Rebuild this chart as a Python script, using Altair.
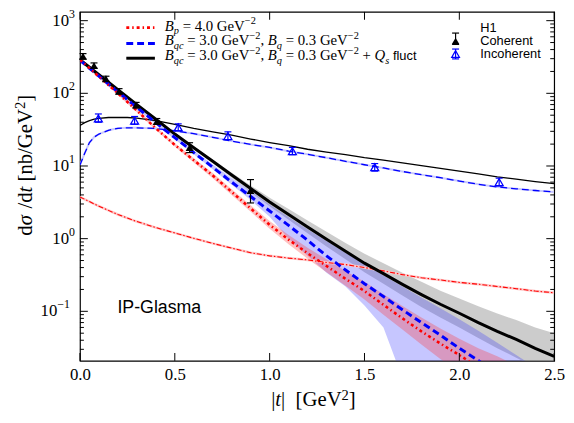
import altair as alt
import pandas as pd

# ---------------- layout ----------------
W, H = 481, 354
YMIN, YMAX = 0.0208, 1321.0
SERIF = "Liberation Serif"
SANS = "Liberation Sans"

# ---------------- data ----------------
t_grid = [0.0, 0.1, 0.2, 0.3, 0.4, 0.5, 0.6, 0.7, 0.8, 0.9, 1.0, 1.1, 1.2,
          1.3, 1.4, 1.5, 1.6, 1.7, 1.8, 1.9, 2.0, 2.1, 2.2, 2.3, 2.4, 2.5]

# coherent: B_qc=3, B_q=0.3 + Qs fluct (black solid, grey band)
coh_fl = [290, 180, 112, 70, 44, 27.5, 17.8, 11.6, 7.5, 4.9, 3.2, 2.15, 1.45,
          0.98, 0.67, 0.46, 0.33, 0.235, 0.17, 0.125, 0.094, 0.07, 0.053, 0.041, 0.031, 0.024]
coh_fl_hi = [302, 187, 116, 73, 46, 28.6, 18.7, 12.3, 8.1, 5.4, 3.65, 2.55, 1.78,
             1.24, 0.87, 0.62, 0.46, 0.34, 0.255, 0.192, 0.15, 0.117, 0.093, 0.076, 0.06, 0.05]
coh_fl_lo = [279, 173, 108, 67, 42.3, 26.4, 16.9, 10.9, 6.9, 4.4, 2.8, 1.82, 1.19,
             0.78, 0.52, 0.345, 0.24, 0.165, 0.115, 0.082, 0.06, 0.043, 0.031, 0.023, 0.017, 0.012]
# coherent: B_qc=3, B_q=0.3 (blue dashed, blue band)
coh_q = [285, 172, 105, 64, 39.5, 24.5, 15.3, 9.6, 6.0, 3.8, 2.4, 1.52, 0.95,
         0.58, 0.37, 0.24, 0.16, 0.105, 0.07, 0.047, 0.031, 0.021, 0.014, 0.0095, 0.0065, 0.0045]
coh_q_hi = [299, 181, 110, 67, 41.5, 25.8, 16.3, 10.5, 6.8, 4.5, 2.95, 1.98, 1.35,
            0.93, 0.64, 0.44, 0.31, 0.22, 0.155, 0.11, 0.078, 0.054, 0.037, 0.025, 0.017, 0.012]
coh_q_lo = [271, 164, 100, 61, 37.6, 23.3, 14.5, 9.0, 5.5, 3.4, 2.0, 1.0, 0.58,
            0.34, 0.22, 0.12, 0.06, 0.012, 0.004, 0.002, 0.0015, 0.0012, 0.001, 0.001, 0.001, 0.001]
# coherent: B_p = 4 (red dash-dot, pink band)
coh_p = [290, 170, 100, 58, 33, 19.5, 12.0, 7.4, 4.4, 2.6, 1.55, 0.97, 0.63,
         0.42, 0.28, 0.19, 0.123, 0.08, 0.053, 0.036, 0.025, 0.017, 0.012, 0.0085, 0.006, 0.0042]
coh_p_hi = [305, 179, 105, 61, 34.8, 20.6, 12.8, 8.0, 4.8, 2.88, 1.75, 1.12, 0.75,
            0.52, 0.36, 0.255, 0.172, 0.118, 0.082, 0.058, 0.042, 0.031, 0.024, 0.018, 0.014, 0.011]
coh_p_lo = [276, 162, 95, 55, 31.3, 18.5, 11.2, 6.8, 4.0, 2.35, 1.37, 0.84, 0.53,
            0.345, 0.225, 0.145, 0.09, 0.056, 0.035, 0.022, 0.015, 0.01, 0.007, 0.005, 0.0035, 0.0025]

# incoherent curves
t_inc = [0.0, 0.025, 0.05, 0.075, 0.1, 0.15, 0.2, 0.25, 0.3, 0.4, 0.5, 0.6, 0.7,
         0.8, 0.9, 1.0, 1.1, 1.2, 1.3, 1.4, 1.5, 1.6, 1.7, 1.8, 1.9, 2.0, 2.1,
         2.2, 2.3, 2.4, 2.5]
inc_fl = [36, 39.5, 42, 44, 45.2, 46.5, 46.8, 46.5, 45.5, 42, 37.5, 33, 29.5,
          26.5, 23.5, 21, 19, 17, 15.5, 14.3, 13, 12, 11, 10.1, 9.3, 8.5, 7.8,
          7.1, 6.6, 6.1, 5.7]
inc_q = [10.3, 15, 21, 25, 27.5, 31, 33, 33.5, 33.5, 32.8, 30.5, 27.8, 24.8,
         22, 19.8, 18, 16, 14.5, 13, 11.6, 10.4, 9.4, 8.4, 7.6, 6.9, 6.2, 5.6,
         5.15, 4.85, 4.6, 4.4]
inc_p = [3.75, 3.48, 3.24, 3.0, 2.8, 2.45, 2.15, 1.92, 1.72, 1.42, 1.2, 1.01, 0.86,
         0.74, 0.64, 0.58, 0.54, 0.51, 0.47, 0.44, 0.40, 0.36, 0.32, 0.29, 0.27, 0.25, 0.236,
         0.22, 0.205, 0.19, 0.18]

# H1 data
h1c_t = [0.016, 0.074, 0.137, 0.206, 0.296, 0.405, 0.578, 0.899]
h1c_v = [324, 241, 159, 107, 69, 41, 17.9, 4.6]
h1c_lo = [296, 222, 147, 98, 63, 37.5, 15.3, 3.1]
h1c_hi = [352, 262, 172, 116, 75, 45, 20.9, 6.5]
h1i_t = [0.097, 0.288, 0.518, 0.78, 1.12, 1.554, 2.21]
h1i_v = [45, 42, 34, 25.8, 16, 9.6, 6.0]
h1i_lo = [40, 37.5, 30.5, 23, 14.3, 8.5, 5.3]
h1i_hi = [52, 48, 38, 29.5, 18, 10.8, 6.8]

# axis ticks / labels
x_ticks = [0.0, 0.5, 1.0, 1.5, 2.0, 2.5]
y_major = [0.1, 1, 10, 100, 1000]
y_exps = ["\u22121", "0", "1", "2", "3"]
y_minor = [0.03, 0.04, 0.05, 0.06, 0.07, 0.08, 0.09,
           0.2, 0.3, 0.4, 0.5, 0.6, 0.7, 0.8, 0.9,
           2, 3, 4, 5, 6, 7, 8, 9,
           20, 30, 40, 50, 60, 70, 80, 90,
           200, 300, 400, 500, 600, 700, 800, 900]

# ---------------- frames ----------------
coh = pd.DataFrame({"t": t_grid, "fl": coh_fl, "fl_lo": coh_fl_lo, "fl_hi": coh_fl_hi,
                    "q": coh_q, "q_lo": coh_q_lo, "q_hi": coh_q_hi,
                    "p": coh_p, "p_lo": coh_p_lo, "p_hi": coh_p_hi})
inc = pd.DataFrame({"t": t_inc, "fl": inc_fl, "q": inc_q, "p": inc_p})
h1c = pd.DataFrame({"t": h1c_t, "v": h1c_v, "lo": h1c_lo, "hi": h1c_hi})
h1i = pd.DataFrame({"t": h1i_t, "v": h1i_v, "lo": h1i_lo, "hi": h1i_hi})
ylab = pd.DataFrame({"v": y_major, "base": ["10"] * len(y_major), "exp": y_exps})
ylab_pos = ylab[ylab["v"] >= 1]
ylab_neg = ylab[ylab["v"] < 1]

xs = alt.Scale(domain=[0, 2.5], nice=False, zero=False)
ys = alt.Scale(type="log", domain=[YMIN, YMAX], nice=False)
x_axis = alt.Axis(values=x_ticks, format=".1f", title=None, ticks=False, domain=False,
                  grid=False, labelFont=SERIF, labelFontSize=17, labelColor="black",
                  labelPadding=6, labelFlush=False, labelOverlap=False)


def X(f):
    return alt.X(f, type="quantitative", scale=xs, axis=x_axis)


def Y(f):
    return alt.Y(f, type="quantitative", scale=ys, axis=None)


layers = []


def band(lo, hi, color, op):
    return alt.Chart(coh).mark_area(color=color, opacity=op, clip=True).encode(
        x=X("t"), y=Y(lo), y2=alt.Y2(hi))

layers += [band("fl_lo", "fl_hi", "#999999", 0.5),
           band("q_lo", "q_hi", "#3333ff", 0.28),
           band("p_lo", "p_hi", "#ff3333", 0.30)]


def line(df, f, color, width, dash=None):
    kw = dict(color=color, strokeWidth=width, clip=True)
    if dash:
        kw["strokeDash"] = dash
    return alt.Chart(df).mark_line(**kw).encode(x=X("t"), y=Y(f))

# incoherent
layers += [line(inc, "p", "#ffc8c8", 2.5),
           line(inc, "p", "#ff0000", 1.1, [5, 2, 1.5, 2]),
           line(inc, "q", "#c8c8ff", 2.0),
           line(inc, "q", "#0000ff", 1.3, [7, 4]),
           line(inc, "fl", "black", 1.3)]
# coherent
layers += [line(coh, "fl", "black", 3.0),
           line(coh, "q", "#0000ff", 3.0, [7, 4]),
           line(coh, "p", "#ff0000", 2.6, [3, 3, 1.5, 3])]

# H1 data points
CAP = "M-1,0L1,0"
for df, col, filled in [(h1c, "black", True), (h1i, "#0000ff", False)]:
    layers.append(alt.Chart(df).mark_rule(color=col, strokeWidth=1.2).encode(
        x=X("t"), y=Y("lo"), y2=alt.Y2("hi")))
    for f in ["lo", "hi"]:
        layers.append(alt.Chart(df).mark_point(shape=CAP, size=50, filled=False, color=col,
                                               strokeWidth=1.2, opacity=1).encode(x=X("t"), y=Y(f)))
    layers.append(alt.Chart(df).mark_point(shape="triangle-up", size=65, filled=filled,
                                           color=col, strokeWidth=1.3, opacity=1).encode(x=X("t"), y=Y("v")))

# ticks (inward)
ymaj_df = pd.DataFrame({"v": y_major})
ymin_df = pd.DataFrame({"v": y_minor})
xt_df = pd.DataFrame({"t": x_ticks})
for df, ln in [(ymaj_df, 8), (ymin_df, 4)]:
    layers.append(alt.Chart(df).mark_rule(color="black", strokeWidth=1).encode(
        y=Y("v"), x=alt.value(0), x2=alt.value(ln)))
    layers.append(alt.Chart(df).mark_rule(color="black", strokeWidth=1).encode(
        y=Y("v"), x=alt.value(W), x2=alt.value(W - ln)))
layers.append(alt.Chart(xt_df).mark_rule(color="black", strokeWidth=1).encode(
    x=X("t"), y=alt.value(H), y2=alt.value(H - 8)))
layers.append(alt.Chart(xt_df).mark_rule(color="black", strokeWidth=1).encode(
    x=X("t"), y=alt.value(0), y2=alt.value(8)))

# y tick labels 10^n
for df, xr in [(ylab_pos, -11), (ylab_neg, -23)]:
    layers.append(alt.Chart(df).mark_text(align="right", baseline="middle", font=SERIF,
                                          fontSize=17, color="black").encode(
        y=Y("v"), x=alt.value(xr), text="base:N"))
    layers.append(alt.Chart(df).mark_text(align="left", baseline="middle", font=SERIF,
                                          fontSize=12, dy=-7, color="black").encode(
        y=Y("v"), x=alt.value(xr), text="exp:N"))

# ---------------- text helpers ----------------
dummy = pd.DataFrame({"d": [0]})
TW = {" ": 250, "=": 564, "+": 564, ".": 250, ",": 250, "\u2212": 564,
      "-": 333, "|": 200, "[": 333, "]": 333, "/": 278, "B": 611, "G": 722, "e": 444,
      "V": 722, "p": 500, "q": 500, "c": 444, "Q": 722, "s": 389, "d": 500,
      "\u03c3": 560, "n": 500, "b": 500, "t": 278}
SW = {" ": 278, "f": 278, "l": 222, "u": 556, "c": 500, "t": 278}


def wid(s, size, tab):
    return sum(tab.get(c, 500) for c in s) * size / 1000.0


def txt(x, y, s, size, font=SERIF, style="normal", align="left", baseline="alphabetic",
        angle=None, color="black"):
    kw = dict(align=align, baseline=baseline, font=font, fontSize=size, fontStyle=style,
              color=color)
    if angle is not None:
        kw["angle"] = angle
    return alt.Chart(dummy).mark_text(**kw).encode(
        x=alt.value(x), y=alt.value(y), text=alt.value(s))


def seg_style(kind, fs):
    if kind == "n":
        return fs, 0, SERIF, "normal", TW
    if kind == "i":
        return fs, 0, SERIF, "italic", TW
    if kind == "sub":
        return fs * 0.7, 3.5, SERIF, "italic", TW
    if kind == "sup":
        return fs * 0.7, -6.5, SERIF, "normal", TW
    return fs * 0.87, 0, SANS, "normal", SW


def pieces(s):
    lead = len(s) - len(s.lstrip(" "))
    trail = len(s) - len(s.rstrip(" "))
    return lead, s.strip(" "), trail


def math_line(x, y, segs, fs):
    out = []
    for s, kind in segs:
        size, dy, font, style, tab = seg_style(kind, fs)
        lead, core, trail = pieces(s)
        x += wid(" " * lead, size, tab)
        if core:
            out.append(txt(x, y + dy, core, size, font, style))
        x += wid(core, size, tab) + wid(" " * trail, size, tab)
    return out


def math_line_vert(x, y, segs, fs):
    out = []
    for s, kind in segs:
        size, dy, font, style, tab = seg_style(kind, fs)
        lead, core, trail = pieces(s)
        y -= wid(" " * lead, size, tab)
        if core:
            out.append(txt(x + dy, y, core, size, font, style, angle=270))
        y -= wid(core, size, tab) + wid(" " * trail, size, tab)
    return out

# legend (models)
seg1 = [("B", "i"), ("p", "sub"), (" = 4.0 GeV", "n"), ("\u22122", "sup")]
seg2 = [("B", "i"), ("qc", "sub"), (" = 3.0 GeV", "n"), ("\u22122", "sup"), (", ", "n"),
        ("B", "i"), ("q", "sub"), (" = 0.3 GeV", "n"), ("\u22122", "sup")]
seg3 = seg2 + [(" + ", "n"), ("Q", "i"), ("s", "sub"), (" fluct", "sans")]
layers += math_line(86, 19, seg1, 15)
layers += math_line(86, 34, seg2, 15)
layers += math_line(86, 49, seg3, 15)
layers.append(alt.Chart(dummy).mark_rule(color="#ff0000", strokeWidth=2.6, strokeDash=[3, 3, 1.5, 3]).encode(
    x=alt.value(47), x2=alt.value(76), y=alt.value(16)))
layers.append(alt.Chart(dummy).mark_rule(color="#0000ff", strokeWidth=3, strokeDash=[7, 4]).encode(
    x=alt.value(47), x2=alt.value(76), y=alt.value(32)))
layers.append(alt.Chart(dummy).mark_rule(color="black", strokeWidth=3).encode(
    x=alt.value(47), x2=alt.value(76), y=alt.value(47)))

# legend (H1)
layers.append(txt(406, 16, "H1", 13, SANS, baseline="middle"))
layers.append(txt(406, 29.5, "Coherent", 13, SANS, baseline="middle"))
layers.append(txt(406, 42.5, "Incoherent", 13, SANS, baseline="middle"))
for (cy, top, bot, col, filled) in [(29.5, 21.5, 33, "black", True), (42.7, 37.7, 47.7, "#0000ff", False)]:
    layers.append(alt.Chart(dummy).mark_rule(color=col, strokeWidth=1.2).encode(
        x=alt.value(381), y=alt.value(top), y2=alt.value(bot)))
    for yy in (top, bot):
        layers.append(alt.Chart(dummy).mark_point(shape=CAP, size=50, filled=False, color=col,
                                                  strokeWidth=1.2, opacity=1).encode(
            x=alt.value(381), y=alt.value(yy)))
    layers.append(alt.Chart(dummy).mark_point(shape="triangle-up", size=60, filled=filled, color=col,
                                              strokeWidth=1.3, opacity=1).encode(
        x=alt.value(381), y=alt.value(cy)))

# annotation
layers.append(txt(38, 300, "IP-Glasma", 18, SANS, baseline="middle"))

# axis titles
layers += math_line(194, 400, [("|", "n"), ("t", "i"), ("|", "n"), ("  [GeV", "n"), ("2", "sup"), ("]", "n")], 21)
layers += math_line_vert(-49, 227, [("d", "n"), ("\u03c3", "i"), (" /d", "n"), ("t", "i"),
                                    (" [nb/GeV", "n"), ("2", "sup"), ("]", "n")], 21)

chart = alt.layer(*layers).properties(
    width=W, height=H,
    padding={"left": 73, "top": 1, "right": 12, "bottom": 54},
    autosize=alt.AutoSizeParams(type="none"),
).configure_view(stroke="black", strokeWidth=1.2)

chart.save("out.html", embed_options={"renderer": "svg", "actions": False})
